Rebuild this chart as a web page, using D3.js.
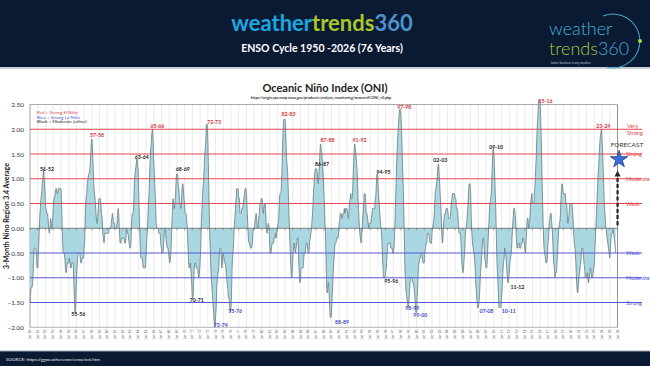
<!DOCTYPE html>
<html><head><meta charset="utf-8">
<script src="https://cdn.jsdelivr.net/npm/d3@7"></script>
<style>
body{margin:0;background:#fff}
svg{display:block}
text{font-family:Lato,"Open Sans","DejaVu Sans",sans-serif}
</style>
</head><body>
<svg id="c" width="650" height="366"></svg>
<script>
// ---- DATA (ONI, 3-month running mean, one value per month, DJF..NDJ) ----
const firstYear = 1950;
const oni1950s = [
-1.5,-1.3,-1.2,-1.2,-1.1,-0.9,-0.5,-0.4,-0.4,-0.4,-0.6,-0.8,
-0.8,-0.5,-0.2,0.2,0.4,0.6,0.7,0.9,1.0,1.2,1.0,0.8,
0.5,0.4,0.3,0.3,0.2,0.0,-0.1,0.0,0.2,0.1,0.0,0.1,
0.4,0.6,0.6,0.7,0.8,0.8,0.7,0.7,0.8,0.8,0.8,0.8,
0.8,0.5,0.0,-0.4,-0.5,-0.5,-0.6,-0.8,-0.9,-0.8,-0.7,-0.7,
-0.7,-0.6,-0.7,-0.8,-0.8,-0.7,-0.7,-0.7,-1.1,-1.4,-1.7,-1.5,
-1.1,-0.8,-0.6,-0.5,-0.5,-0.5,-0.6,-0.7,-0.7,-0.6,-0.6,-0.6,
-0.4,-0.2,0.3,0.6,0.7,0.9,1.0,1.1,1.1,1.2,1.4,1.7,
1.8,1.6,1.2,0.9,0.7,0.6,0.4,0.2,0.1,0.2,0.4,0.6,
0.6,0.6,0.5,0.3,0.2,-0.1,-0.2,-0.3,-0.1,-0.1,-0.1,-0.1];
const oni1960s = [
-0.1,-0.1,-0.1,0.0,0.0,0.0,0.1,0.2,0.3,0.2,0.1,0.1,
0.0,0.0,0.0,0.1,0.3,0.4,0.2,-0.1,-0.3,-0.3,-0.2,-0.2,
-0.2,-0.2,-0.2,-0.3,-0.3,-0.2,0.0,-0.1,-0.1,-0.2,-0.3,-0.4,
-0.4,-0.2,0.2,0.3,0.3,0.5,0.9,1.1,1.2,1.3,1.4,1.3,
1.1,0.6,0.1,-0.3,-0.6,-0.6,-0.6,-0.7,-0.8,-0.8,-0.8,-0.8,
-0.6,-0.3,-0.1,0.2,0.5,0.8,1.2,1.5,1.7,1.9,2.0,1.8,
1.4,1.1,0.8,0.5,0.1,0.0,0.0,0.0,-0.1,-0.1,-0.1,-0.3,
-0.4,-0.5,-0.5,-0.4,-0.2,0.0,0.0,-0.2,-0.3,-0.4,-0.4,-0.5,
-0.6,-0.7,-0.6,-0.4,0.0,0.3,0.6,0.5,0.4,0.5,0.7,1.0,
1.1,1.1,0.9,0.8,0.6,0.5,0.4,0.5,0.8,0.9,0.8,0.6];
const oni1970s = [
0.5,0.3,0.3,0.2,0.0,-0.3,-0.6,-0.8,-0.8,-0.7,-0.9,-1.1,
-1.4,-1.4,-1.1,-0.8,-0.7,-0.7,-0.8,-0.8,-0.8,-0.9,-1.0,-0.9,
-0.7,-0.4,0.1,0.4,0.7,0.9,1.1,1.4,1.6,1.8,2.1,2.1,
1.8,1.2,0.5,-0.1,-0.5,-0.9,-1.1,-1.3,-1.5,-1.7,-1.9,-2.0,
-1.8,-1.6,-1.2,-1.0,-0.9,-0.8,-0.5,-0.4,-0.4,-0.6,-0.8,-0.6,
-0.5,-0.6,-0.7,-0.7,-0.8,-1.0,-1.1,-1.2,-1.4,-1.4,-1.6,-1.7,
-1.6,-1.2,-0.7,-0.5,-0.3,0.0,0.2,0.4,0.6,0.8,0.8,0.8,
0.6,0.6,0.3,0.3,0.3,0.4,0.4,0.5,0.6,0.7,0.8,0.8,
0.7,0.4,0.1,-0.2,-0.3,-0.3,-0.4,-0.4,-0.4,-0.3,-0.1,0.0,
0.0,0.1,0.2,0.3,0.2,0.0,0.0,0.2,0.3,0.5,0.5,0.6];
const oni1980s = [
0.6,0.5,0.3,0.4,0.5,0.5,0.3,0.0,-0.1,0.0,0.1,0.0,
-0.3,-0.5,-0.5,-0.4,-0.3,-0.3,-0.3,-0.2,-0.2,-0.1,-0.2,-0.1,
0.0,0.1,0.2,0.5,0.7,0.7,0.8,1.1,1.6,2.0,2.2,2.2,
2.2,1.9,1.5,1.3,1.1,0.7,0.3,-0.1,-0.5,-0.8,-1.0,-0.9,
-0.6,-0.4,-0.3,-0.4,-0.5,-0.4,-0.3,-0.2,-0.2,-0.6,-0.9,-1.1,
-1.0,-0.8,-0.8,-0.8,-0.8,-0.6,-0.5,-0.5,-0.4,-0.3,-0.3,-0.4,
-0.5,-0.5,-0.3,-0.2,-0.1,0.0,0.2,0.4,0.7,0.9,1.1,1.2,
1.2,1.2,1.1,0.9,1.0,1.2,1.5,1.7,1.6,1.5,1.3,1.1,
0.8,0.5,0.1,-0.3,-0.9,-1.3,-1.3,-1.1,-1.2,-1.5,-1.8,-1.8,
-1.7,-1.4,-1.1,-0.8,-0.6,-0.4,-0.3,-0.3,-0.2,-0.2,-0.2,-0.1];
const oni1990s = [
0.1,0.2,0.3,0.3,0.2,0.2,0.3,0.3,0.4,0.3,0.4,0.4,
0.4,0.3,0.2,0.3,0.5,0.6,0.7,0.6,0.6,0.8,1.2,1.5,
1.7,1.6,1.5,1.3,1.1,0.7,0.4,0.1,-0.1,-0.2,-0.3,-0.1,
0.1,0.3,0.5,0.7,0.7,0.6,0.3,0.3,0.2,0.1,0.0,0.1,
0.1,0.1,0.2,0.3,0.4,0.4,0.4,0.4,0.6,0.7,1.0,1.1,
1.0,0.7,0.5,0.3,0.1,0.0,-0.2,-0.5,-0.8,-1.0,-1.0,-1.0,
-0.9,-0.8,-0.6,-0.4,-0.3,-0.3,-0.3,-0.3,-0.4,-0.4,-0.4,-0.5,
-0.5,-0.4,-0.1,0.3,0.8,1.2,1.6,1.9,2.1,2.3,2.4,2.4,
2.2,1.9,1.4,1.0,0.5,-0.1,-0.8,-1.1,-1.3,-1.4,-1.5,-1.6,
-1.5,-1.3,-1.1,-1.0,-1.0,-1.0,-1.1,-1.1,-1.2,-1.3,-1.5,-1.7];
const oni2000s = [
-1.7,-1.4,-1.1,-0.8,-0.7,-0.6,-0.6,-0.5,-0.5,-0.6,-0.7,-0.7,
-0.7,-0.5,-0.4,-0.3,-0.3,-0.1,-0.1,-0.1,-0.2,-0.3,-0.3,-0.3,
-0.1,0.0,0.1,0.2,0.4,0.7,0.8,0.9,1.0,1.2,1.3,1.1,
0.9,0.6,0.4,0.0,-0.3,-0.2,0.1,0.2,0.3,0.3,0.4,0.4,
0.4,0.3,0.2,0.2,0.2,0.3,0.5,0.6,0.7,0.7,0.7,0.7,
0.6,0.6,0.4,0.4,0.3,0.1,-0.1,-0.1,-0.1,-0.3,-0.6,-0.8,
-0.9,-0.8,-0.6,-0.4,-0.1,0.0,0.1,0.3,0.5,0.8,0.9,0.9,
0.7,0.2,-0.1,-0.3,-0.4,-0.5,-0.6,-0.8,-1.1,-1.3,-1.5,-1.6,
-1.6,-1.5,-1.3,-1.0,-0.8,-0.6,-0.4,-0.2,-0.2,-0.4,-0.6,-0.7,
-0.8,-0.8,-0.6,-0.3,0.0,0.3,0.5,0.6,0.7,1.0,1.4,1.6];
const oni2010s = [
1.5,1.2,0.8,0.4,-0.2,-0.7,-1.0,-1.3,-1.6,-1.6,-1.6,-1.6,
-1.4,-1.2,-0.9,-0.7,-0.6,-0.4,-0.5,-0.6,-0.8,-1.0,-1.1,-1.0,
-0.9,-0.7,-0.6,-0.5,-0.3,0.0,0.2,0.4,0.4,0.3,0.1,-0.2,
-0.4,-0.4,-0.3,-0.3,-0.4,-0.4,-0.4,-0.3,-0.3,-0.2,-0.2,-0.3,
-0.4,-0.5,-0.3,0.0,0.2,0.2,0.0,0.1,0.2,0.5,0.6,0.7,
0.5,0.5,0.5,0.7,0.9,1.2,1.5,1.9,2.2,2.4,2.6,2.6,
2.5,2.1,1.6,0.9,0.4,-0.1,-0.4,-0.5,-0.6,-0.7,-0.7,-0.6,
-0.3,-0.2,0.1,0.2,0.3,0.3,0.1,-0.1,-0.4,-0.7,-0.8,-1.0,
-0.9,-0.9,-0.7,-0.5,-0.2,0.0,0.1,0.2,0.5,0.8,0.9,0.8,
0.7,0.7,0.7,0.7,0.5,0.5,0.3,0.1,0.2,0.3,0.5,0.5];
const oni2020s = [
0.5,0.5,0.4,0.2,-0.1,-0.3,-0.4,-0.6,-0.9,-1.2,-1.3,-1.2,
-1.0,-0.9,-0.8,-0.7,-0.5,-0.4,-0.4,-0.5,-0.7,-0.8,-1.0,-1.0,
-1.0,-0.9,-1.0,-1.1,-1.0,-0.9,-0.8,-0.9,-1.0,-1.0,-0.9,-0.8,
-0.7,-0.4,-0.1,0.2,0.5,0.8,1.1,1.3,1.6,1.8,1.9,2.0,
1.8,1.5,1.1,0.7,0.4,0.2,0.0,-0.1,-0.2,-0.3,-0.4,-0.5,
-0.6,-0.4,-0.2,-0.1,-0.1,0.0,-0.1,-0.2,-0.3,-0.5];

const yTicks = [2.5,2.0,1.5,1.0,0.5,0.0,-0.5,-1.0,-1.5,-2.0];
const xTickYears = d3.range(1950, 2027);
const elNinoLevels = [0.5,1.0,1.5,2.0];
const elNinoNames = ["Weak","Moderate","Strong","Very Strong"];
const laNinaLevels = [-0.5,-1.0,-1.5];
const laNinaNames = ["Weak","Moderate","Strong"];

const eventNames  = ["51-52","57-58","63-64","65-66","68-69","72-73","82-83","86-87","87-88","91-92","94-95","97-98","02-03","09-10","15-16","23-24",
                     "55-56","70-71","73-74","75-76","88-89","95-96","98-99","99-00","07-08","10-11","11-12"];
const eventKinds  = ["mod","nino","mod","nino","mod","nino","nino","mod","nino","nino","mod","nino","mod","mod","nino","nino",
                     "mod","mod","nina","nina","nina","mod","nina","nina","nina","nina","mod"];
const eventYears  = [1952.2,1958.67,1964.46,1966.48,1969.77,1973.82,1983.44,1987.77,1988.49,1992.63,1995.74,1998.42,2003.08,2010.3,2016.68,2024.15,
                     1956.25,1971.58,1974.69,1976.54,1990.36,1996.74,1999.46,2000.49,2009.04,2011.93,2013.05];
const eventValues = [1.20,1.87,1.43,2.07,1.20,2.15,2.31,1.30,1.77,1.77,1.14,2.44,1.37,1.64,2.56,2.07,
                     -1.73,-1.46,-1.95,-1.68,-1.90,-1.06,-1.62,-1.75,-1.68,-1.68,-1.18];
const forecastYear = 2026.2;
const forecastValue = 1.39;

// ---- DRAW ----
const oni = [].concat(oni1950s, oni1960s, oni1970s, oni1980s, oni1990s, oni2000s, oni2010s, oni2020s);
const series = oni.map((v,i)=>({t: firstYear + i/12, v}));

const svg = d3.select("#c");
const navy = "#0b1a33";
const red = "#e5454d", blue = "#5656dc";
const kindColor = {nino:"#d6323a", mod:"#222", nina:"#4646d0"};

// header
svg.append("rect").attr("x",0).attr("y",0).attr("width",650).attr("height",68).attr("fill",navy);
svg.append("rect").attr("x",0).attr("y",67).attr("width",650).attr("height",2).attr("fill","#c9cdd3");
const brand = svg.append("text").attr("x",322).attr("y",31).attr("text-anchor","middle")
  .attr("font-size",22).attr("font-weight",700);
brand.append("tspan").attr("fill","#19a9e1").text("weather");
brand.append("tspan").attr("fill","#a9c62b").text("trends");
brand.append("tspan").attr("fill","#4b93cc").text("360");
svg.append("text").attr("x",322).attr("y",52).attr("text-anchor","middle").attr("font-size",10.5)
  .attr("font-weight",700).attr("fill","#fff").text("ENSO Cycle 1950 -2026 (76 Years)");

// logo
const logo = svg.append("g");
logo.append("path").attr("transform","translate(613,41)")
  .attr("d", d3.arc().innerRadius(26.4).outerRadius(27.4).startAngle(-0.12*Math.PI).endAngle(1.08*Math.PI)())
  .attr("fill","#3aa6c9");
logo.append("circle").attr("cx",640).attr("cy",41).attr("r",2).attr("fill","#b5d334");
logo.append("text").attr("x",549).attr("y",35).attr("font-size",18).attr("font-weight",300).attr("fill","#46b2d6").text("weather");
const l2 = logo.append("text").attr("x",549).attr("y",55).attr("font-size",18).attr("font-weight",300);
l2.append("tspan").attr("fill","#a6c83a").text("trends");
l2.append("tspan").attr("fill","#4aa6d2").text("360");
logo.append("text").attr("x",551).attr("y",63.5).attr("font-size",3).attr("fill","#b8c4cc").text("better business in any weather");

// footer
svg.append("rect").attr("x",0).attr("y",351).attr("width",650).attr("height",15).attr("fill",navy);
svg.append("rect").attr("x",0).attr("y",350.5).attr("width",650).attr("height",1).attr("fill","#9aa3ad");
svg.append("text").attr("x",6).attr("y",361).attr("font-size",4.6).attr("fill","#e6e6e6")
  .text("SOURCE: https://ggweather.com/enso/oni.htm");

// titles
svg.append("text").attr("x",325).attr("y",92).attr("text-anchor","middle").attr("font-size",11)
  .attr("font-weight",700).attr("fill","#222").text("Oceanic Niño Index (ONI)");
svg.append("text").attr("x",321).attr("y",98.5).attr("text-anchor","middle").attr("font-size",3.7)
  .attr("font-weight",700).attr("fill","#333")
  .text("https://origin.cpc.ncep.noaa.gov/products/analysis_monitoring/ensostuff/ONI_v5.php");

// scales
const x = d3.scaleLinear().domain([1950, 2026]).range([30, 617.5]);
const y = d3.scaleLinear().domain([-2, 2.5]).range([327.3, 104.5]);

// vertical grid
svg.append("g").selectAll("line").data(xTickYears).join("line")
  .attr("x1",d=>x(d)).attr("x2",d=>x(d)).attr("y1",y(2.5)).attr("y2",y(-2))
  .attr("stroke","#e2e2e2").attr("stroke-width",0.7);

// frame
svg.append("line").attr("x1",x(1950)).attr("x2",x(2026)).attr("y1",y(2.5)).attr("y2",y(2.5)).attr("stroke","#aaa").attr("stroke-width",1);
svg.append("line").attr("x1",x(1950)).attr("x2",x(2026)).attr("y1",y(-2)).attr("y2",y(-2)).attr("stroke","#b5b5b5").attr("stroke-width",1);
svg.append("line").attr("x1",x(1950)).attr("x2",x(1950)).attr("y1",y(2.5)).attr("y2",y(-2)).attr("stroke","#aaa").attr("stroke-width",1);
svg.append("line").attr("x1",x(2026)).attr("x2",x(2026)).attr("y1",y(2.5)).attr("y2",y(-2)).attr("stroke","#888").attr("stroke-width",0.9);

// y axis
const yAxis = d3.axisLeft(y).tickValues(yTicks).tickFormat(d3.format(".2f")).tickSize(0).tickPadding(6);
const ya = svg.append("g").attr("transform",`translate(${x(1950)},0)`).call(yAxis);
ya.select(".domain").remove();
ya.selectAll("text").attr("font-size",6.5).attr("fill","#333").attr("font-family","Lato,sans-serif");

// x axis labels
const xa = svg.append("g");
xa.selectAll("text").data(xTickYears).join("text")
  .attr("transform",d=>`translate(${x(d)+1},329.5) rotate(-90)`)
  .attr("text-anchor","end").attr("font-size",3.3).attr("fill","#555")
  .text(d=>"Jan-"+String(d%100).padStart(2,"0"));

svg.append("text").attr("transform","translate(9,216) rotate(-90)").attr("text-anchor","middle")
  .attr("font-size",7).attr("font-weight",700).attr("fill","#222").text("3-Month Nino Region 3.4 Average");

// area
const area = d3.area().x(d=>x(d.t)).y0(y(0)).y1(d=>y(d.v)).curve(d3.curveMonotoneX);
const line = d3.line().x(d=>x(d.t)).y(d=>y(d.v)).curve(d3.curveMonotoneX);
svg.append("path").datum(series).attr("d",area).attr("fill","#a9d8e3");

// threshold lines
svg.append("g").selectAll("line").data(elNinoLevels).join("line")
  .attr("x1",x(1950)).attr("x2",642).attr("y1",d=>y(d)).attr("y2",d=>y(d))
  .attr("stroke",red).attr("stroke-width",1.2);
svg.append("g").selectAll("line").data(laNinaLevels).join("line")
  .attr("x1",x(1950)).attr("x2",642).attr("y1",d=>y(d)).attr("y2",d=>y(d))
  .attr("stroke",blue).attr("stroke-width",1.1);

svg.append("path").datum(series).attr("d",line).attr("fill","none").attr("stroke","#66797e").attr("stroke-width",0.8);

// zero line + ticks
svg.append("line").attr("x1",x(1950)).attr("x2",x(2026)).attr("y1",y(0)).attr("y2",y(0)).attr("stroke","#666").attr("stroke-width",0.8);
svg.append("g").selectAll("line").data(xTickYears).join("line")
  .attr("x1",d=>x(d)).attr("x2",d=>x(d)).attr("y1",y(0)).attr("y2",y(0)+2)
  .attr("stroke","#666").attr("stroke-width",0.6);

// right labels
elNinoLevels.forEach((lv,i)=>{
  if (elNinoNames[i]==="Very Strong") {
    svg.append("text").attr("x",627).attr("y",y(lv)-1.2).attr("font-size",5.5).attr("fill",red).text("Very");
    svg.append("text").attr("x",627).attr("y",y(lv)+5.5).attr("font-size",5.5).attr("fill",red).text("Strong");
  } else {
    svg.append("text").attr("x",626).attr("y",y(lv)+2).attr("font-size",5.5).attr("fill",red).text(elNinoNames[i]);
  }
});
laNinaLevels.forEach((lv,i)=>{
  svg.append("text").attr("x",626).attr("y",y(lv)+2).attr("font-size",5.5).attr("fill",blue).text(laNinaNames[i]);
});

// legend
const lg = [["Red = Strong  El Niño","#e5454d"],["Blue = Strong La Niña","#5a5ae0"],["Black = Moderate (either)","#222"]];
svg.append("g").selectAll("text").data(lg).join("text")
  .attr("x",37).attr("y",(d,i)=>114+i*4.7).attr("font-size",4.5).attr("fill",d=>d[1]).text(d=>d[0]);

// event labels
svg.append("g").selectAll("text").data(eventNames).join("text")
  .attr("x",(d,i)=>x(eventYears[i])).attr("y",(d,i)=>y(eventValues[i])+1.8)
  .attr("text-anchor","middle").attr("font-size",5.2).attr("font-weight",700)
  .attr("fill",(d,i)=>kindColor[eventKinds[i]]).text(d=>d);

// forecast
const fx = x(forecastYear)-1.5, fy = y(forecastValue);
svg.append("line").attr("x1",fx).attr("x2",fx).attr("y1",y(0)-3).attr("y2",fy+16)
  .attr("stroke","#222").attr("stroke-width",2.2).attr("stroke-dasharray","4,2.2");
svg.append("path").attr("d",`M${fx-3},${fy+17} L${fx+3},${fy+17} L${fx},${fy+11} Z`).attr("fill","#222");
svg.append("path").attr("transform",`translate(${x(forecastYear)},${fy})`)
  .attr("d", d3.symbol(d3.symbolStar, 92)()).attr("fill","#3b6fd6").attr("stroke","#1d3c8c").attr("stroke-width",0.8);
svg.append("text").attr("x",627).attr("y",147).attr("text-anchor","middle").attr("font-size",6.5)
  .attr("fill","#333").text("FORECAST");
</script>
</body></html>
